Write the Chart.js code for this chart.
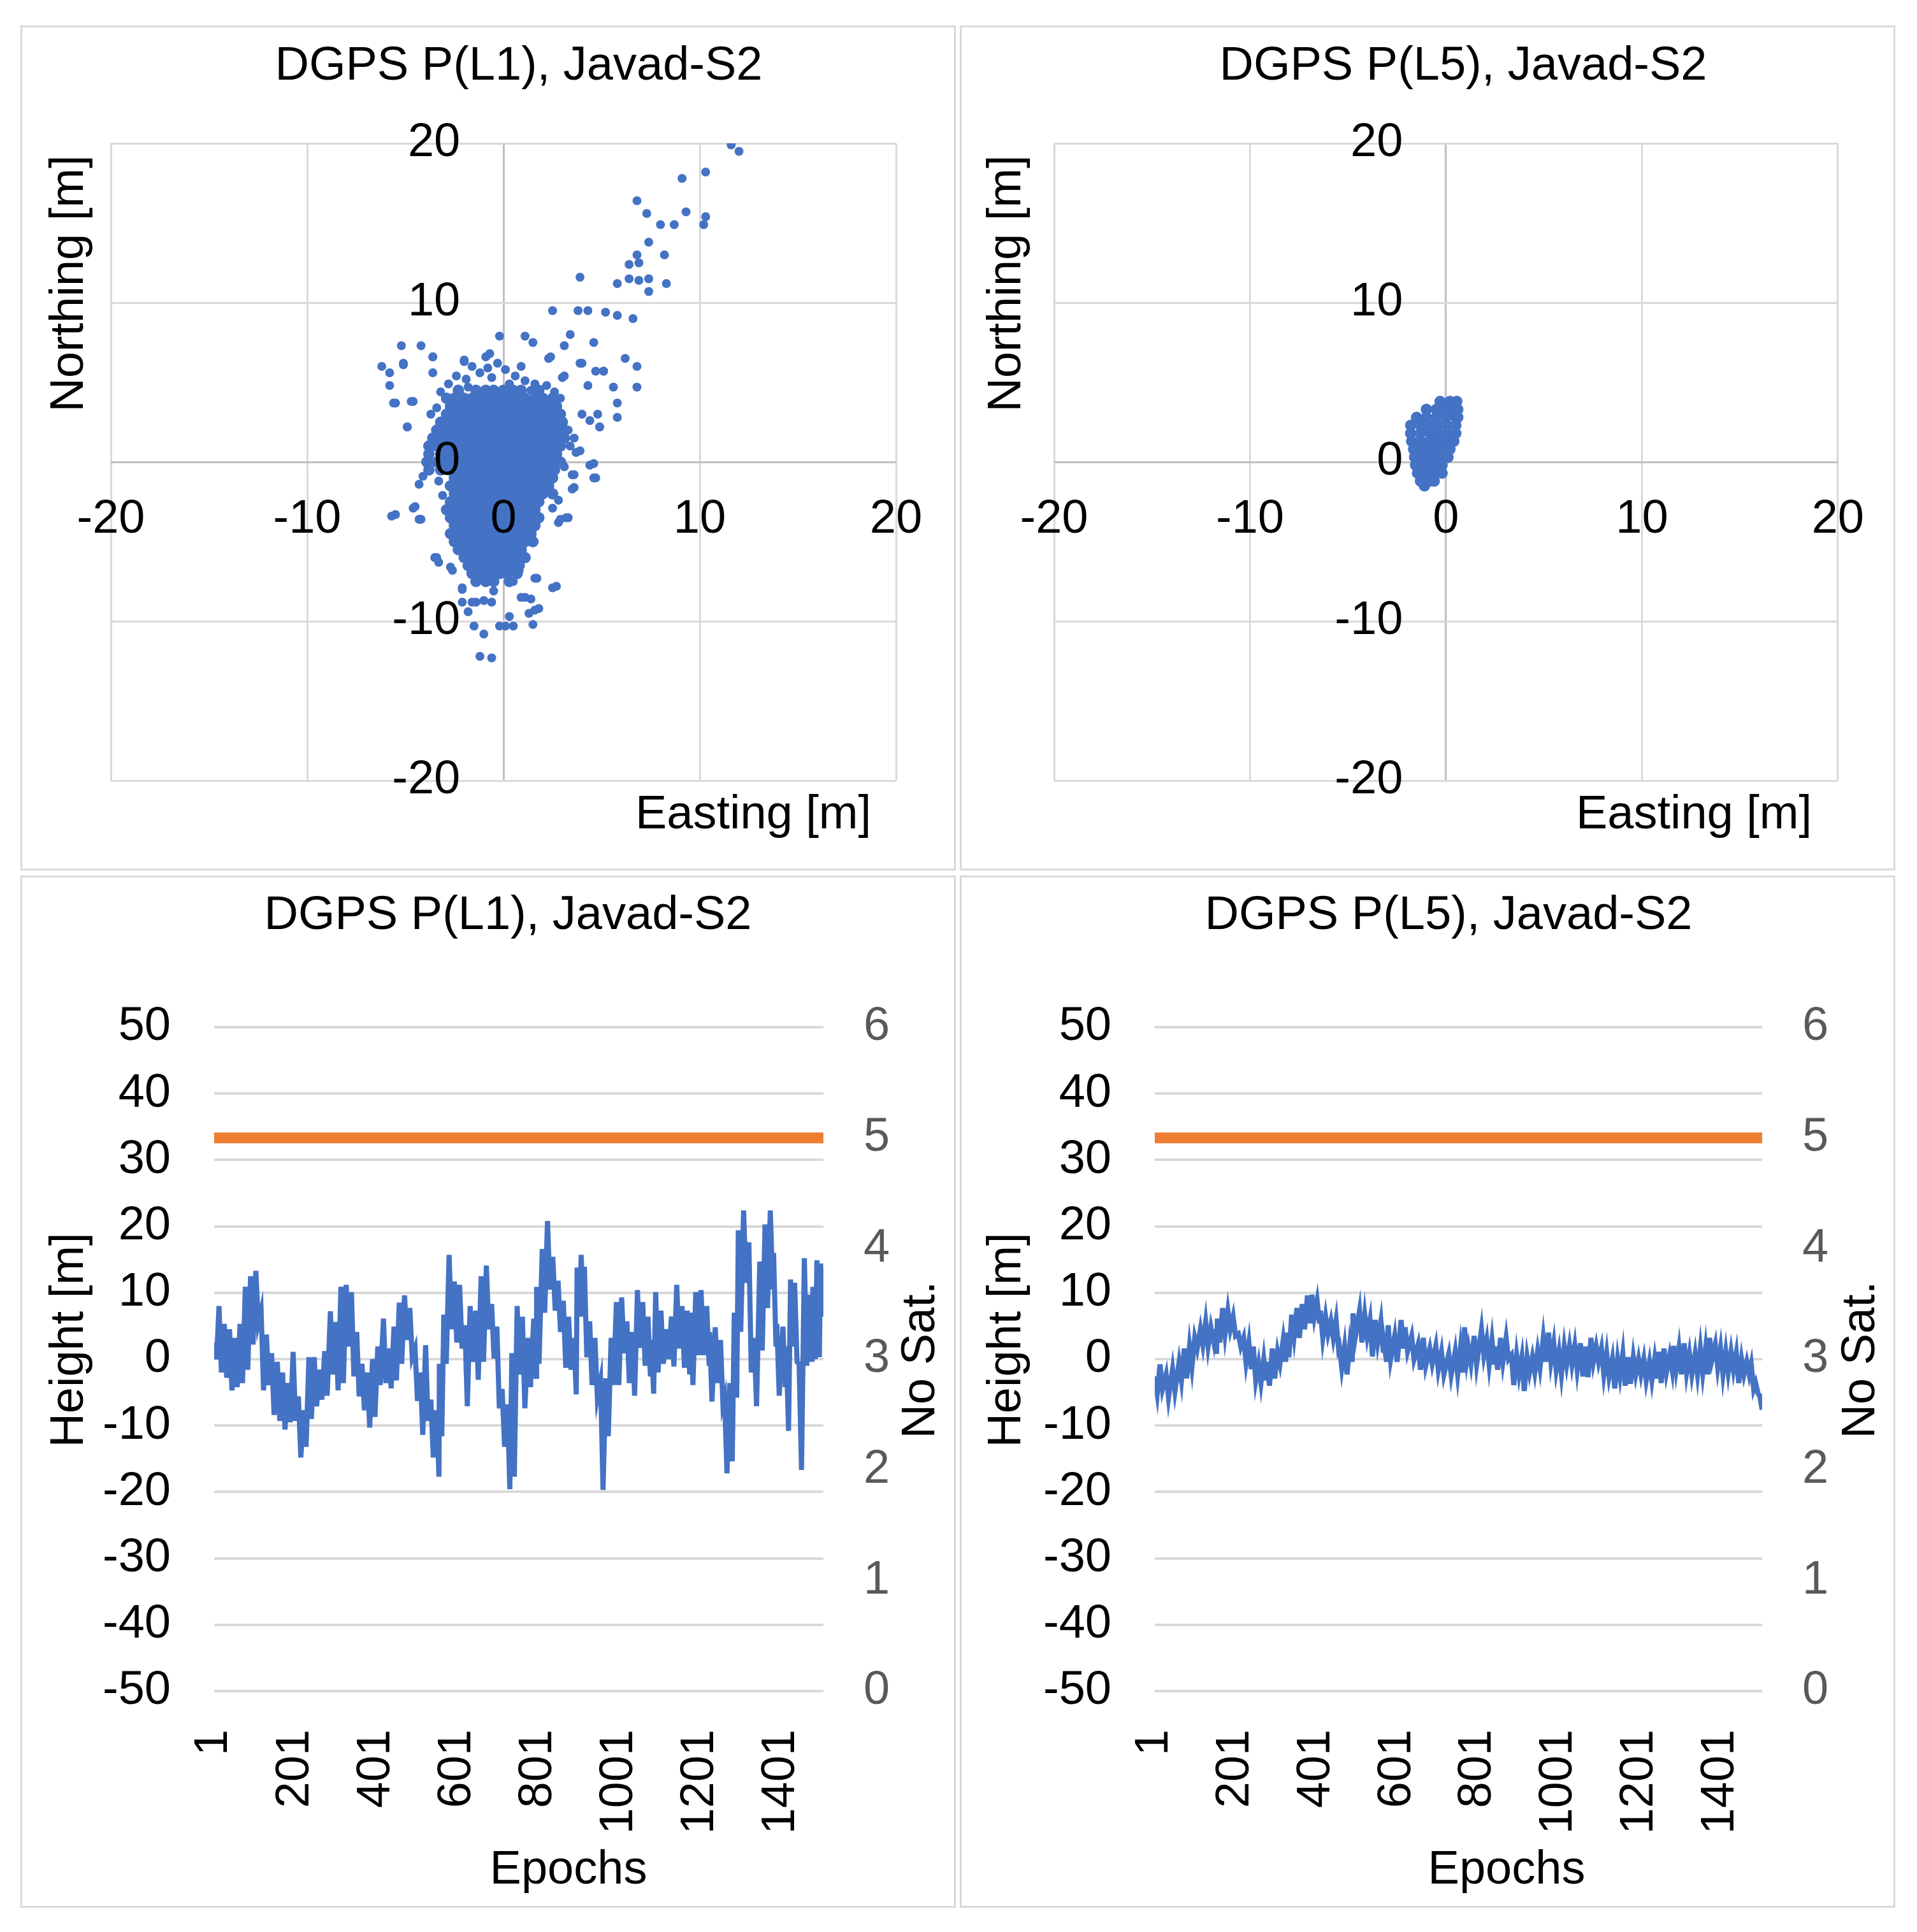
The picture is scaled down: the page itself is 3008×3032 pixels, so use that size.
<!DOCTYPE html>
<html>
<head>
<meta charset="utf-8">
<script src="https://cdn.jsdelivr.net/npm/chart.js@4.4.1/dist/chart.umd.min.js"></script>
<style>
  body { margin: 0; background: #fff; width: 3008px; height: 3032px; position: relative; }
  .panel { position: absolute; border: 3px solid #d9d9d9; background: #fff; }
  .panel canvas { display: block; }
</style>
</head>
<body>
<div class="panel" style="left:32px;top:40px;"><canvas id="scatL1" width="1462" height="1320"></canvas></div>
<div class="panel" style="left:1506px;top:40px;"><canvas id="scatL5" width="1462" height="1320"></canvas></div>
<div class="panel" style="left:32px;top:1374px;"><canvas id="heightL1" width="1462" height="1614"></canvas></div>
<div class="panel" style="left:1506px;top:1374px;"><canvas id="heightL5" width="1462" height="1614"></canvas></div>
<script>
// ---- data ----
const epochTicks = [1, 201, 401, 601, 801, 1001, 1201, 1401]
const epochMax = 1505

// height series: sample epoch, top and bottom of the noise band [m]
const l1Epochs = [1,13,26,39,52,65,78,91,104,117,130,143,157,170,183,196,209,222,235,248,261,274,288,301,314,327,340,353,366,379,392,405,419,432,445,458,471,484,497,510,523,536,550,557,568,581,594,607,620,633,647,660,673,686,699,712,725,736,749,762,
  776,790,797,811,824,837,850,863,876,889,897,907,915,928,941,955,968,981,994,1007,1020,1033,1046,1059,1072,1080,1091,1104,1117,1130,1143,1156,1169,1177,1190,1203,1217,1224,1238,1251,1261,1274,1285,1295,1308,1321,1334,1348,1361,1374,1382,1390,1405,1413,1424,1434,1445,1458,1471,1479,1489,1498]
const l1High = [2.5,8.0,5.3,4.5,3.2,5.3,10.9,12.5,13.3,7.3,3.7,0.9,-0.4,-2.0,-3.6,1.1,-5.6,-7.7,0.3,0.3,-1.6,1.2,7.2,5.6,10.9,11.2,10.1,4.1,-0.7,-2.0,0.0,1.9,6.1,1.6,4.9,8.5,9.6,7.7,1.6,-2.0,2.1,-6.1,-7.7,-0.7,6.7,15.7,11.7,11.2,5.1,8.0,7.3,12.5,14.1,8.3,4.9,-4.5,-6.8,0.9,8.0,6.4,
  3.2,6.1,10.9,16.6,20.8,15.4,11.8,8.8,6.4,3.2,13.8,15.7,13.9,5.7,3.2,-3.2,-2.9,3.2,8.6,9.3,5.7,4.1,10.4,8.6,6.4,2.9,10.1,7.3,4.5,6.4,11.2,8.0,7.3,7.0,10.1,10.4,8.0,4.1,4.8,2.9,-5.8,-3.6,7.0,19.4,22.4,17.6,3.2,14.7,20.3,22.4,16.0,5.3,4.9,1.9,12.0,11.5,-0.7,15.2,9.7,10.9,14.9,14.4]
const l1Low = [0.0,-2.0,-2.8,-4.7,-4.2,-3.6,-1.6,2.2,5.4,-4.7,-3.9,-8.4,-9.3,-10.6,-9.5,-9.3,-14.8,-13.2,-9.0,-7.1,-6.1,-5.5,-2.3,-4.7,-3.6,1.9,-2.6,-5.6,-7.7,-10.3,-8.7,-3.9,-3.6,-4.4,-3.2,-0.7,2.9,0.3,-6.3,-11.4,-9.3,-14.8,-17.7,-11.6,-0.7,4.5,2.5,1.6,-7.1,-0.4,-3.1,-0.4,4.5,0.1,-7.4,-13.2,-19.6,-17.7,-2.3,-7.4,
  -4.2,-2.6,-0.7,7.0,10.5,7.3,4.1,-1.3,-1.6,-5.3,6.4,6.4,0.3,-3.9,-5.8,-19.7,-11.6,-3.9,-3.9,0.9,-3.6,-5.5,1.7,-1.0,-2.6,-5.2,-2.0,-0.7,0.0,-1.1,1.6,-1.3,-2.3,-3.9,0.6,0.6,-1.0,-6.4,-3.6,-6.8,-17.2,-15.4,-5.8,4.1,11.5,-2.0,-7.1,1.3,7.7,10.5,1.9,-5.5,-4.2,-10.8,1.9,-0.4,-16.7,-1.0,-0.4,0.0,0.3,6.4]

const l5Epochs = [1,14,29,45,61,74,87,100,114,127,140,148,156,169,182,195,208,221,234,245,258,271,279,292,305,319,327,340,353,366,379,390,403,411,424,437,450,458,471,484,492,508,521,534,547,561,569,579,595,611,621,637,653,666,682,697,711,729,745,758,768,
  778,792,810,823,836,844,857,871,884,897,910,923,936,949,963,976,989,1002,1015,1028,1041,1055,1068,1081,1094,1107,1120,1134,1147,1160,1173,1186,1199,1212,1226,1239,1249,1262,1276,1286,1299,1312,1325,1339,1352,1365,1375,1389,1402,1415,1428,1441,1454,1467,1478,1489,1499]
const l5High = [-2.6,-0.8,-2.3,-1.5,-0.5,1.6,1.9,3.2,4.5,5.6,4.8,4.5,6.1,7.7,7.3,6.4,3.8,3.2,2.5,1.9,-0.7,0.0,-0.4,1.6,1.1,2.9,4.0,6.7,7.7,8.3,9.6,9.7,8.8,7.3,6.4,5.7,5.9,1.9,1.9,2.2,6.9,7.3,6.7,5.9,5.9,5.7,2.2,5.1,3.5,5.9,4.8,3.5,2.2,3.2,1.6,2.0,1.1,0.8,1.2,1.7,4.8,
  1.6,3.5,4.5,2.9,2.9,1.9,3.2,3.2,0.6,0.6,0.3,0.3,0.3,1.2,3.2,4.0,2.4,1.1,1.9,2.0,2.0,2.4,1.9,3.2,1.9,1.6,0.9,0.0,0.0,0.8,0.3,0.3,0.0,0.0,-0.4,0.0,1.1,1.6,0.6,2.0,1.6,2.4,0.8,0.8,1.6,1.6,3.2,2.2,1.6,1.1,1.1,0.9,0.0,-0.4,-0.8,-3.6,-5.5]
const l5Low = [-5.2,-4.5,-5.8,-4.8,-3.2,-2.9,-1.2,1.6,2.2,1.9,2.9,0.8,2.5,3.8,4.5,3.5,1.9,-0.5,-1.5,-3.2,-3.6,-3.2,-4.0,-2.9,-0.7,-0.4,0.3,3.5,3.2,4.5,5.4,6.4,5.4,3.2,3.8,3.2,1.6,-1.3,-2.3,-0.4,3.5,2.5,3.5,0.4,2.5,1.0,-0.4,0.0,-0.4,1.6,1.2,0.0,-1.6,-1.0,-0.7,-1.6,-2.3,-2.4,-2.3,-2.0,0.0,
  -0.7,-0.8,0.6,-0.8,-0.8,-1.6,-0.4,0.0,-3.9,-2.3,-4.8,-2.0,-2.0,-1.3,-0.4,-0.4,-1.6,-2.3,-0.8,-0.8,-1.6,-2.6,-2.7,-0.4,-0.4,-2.3,-2.6,-4.4,-2.6,-4.0,-3.7,-2.3,-2.3,-3.2,-3.2,-2.9,-3.6,-2.0,-1.6,-1.5,-2.3,-2.0,-2.3,-2.3,-2.1,-2.3,0.0,-1.3,-2.3,-2.0,-1.6,-3.6,-2.3,-2.3,-4.5,-5.2,-7.6]

// number of satellites (constant)
const satEpochs = [1, 1505]
const l1Sats = [5, 5]
const l5Sats = [5, 5]

// scatter: dense core rows (northing -> eastings) and single points [easting, northing]
const l1CoreNorth = [4.5,4.0,3.5,3.0,2.5,2.0,1.5,1.0,0.5,0.0,-0.5,-1.0,-1.5,-2.0,-2.5,-3.0,-3.5,-4.0,-4.5,-5.0,-5.5,-6.0,-6.5,-7.0,-7.5]
const l1CoreEast = [
  [-2.3,-1.4,-0.9,-0.5,0,0.5,0.9,1.8],
  [-2.9,-2.5,-2.0,-1.6,-1.1,-0.7,-0.2,0.2,0.7,1.1,1.6,2.0,2.5],
  [-2.7,-2.3,-1.8,-1.4,-0.9,-0.5,0,0.5,0.9,1.4,1.8,2.3,2.7],
  [-2.9,-2.5,-2.0,-1.6,-1.1,-0.7,-0.2,0.2,0.7,1.1,1.6,2.0,2.5,2.9],
  [-3.2,-2.7,-2.3,-1.8,-1.4,-0.9,-0.5,0,0.5,0.9,1.4,1.8,2.3,2.7,3.0],
  [-3.4,-2.9,-2.5,-2.0,-1.6,-1.1,-0.7,-0.2,0.2,0.7,1.1,1.6,2.0,2.5,2.9,3.1],
  [-3.6,-3.2,-2.7,-2.3,-1.8,-1.4,-0.9,-0.5,0,0.5,0.9,1.4,1.8,2.3,2.7,3.1],
  [-3.8,-3.4,-2.9,-2.5,-2.0,-1.6,-1.1,-0.7,-0.2,0.2,0.7,1.1,1.6,2.0,2.5,2.9],
  [-3.8,-3.2,-2.7,-2.3,-1.8,-1.4,-0.9,-0.5,0,0.5,0.9,1.4,1.8,2.3,2.7],
  [-3.9,-3.4,-2.9,-2.5,-2.0,-1.6,-1.1,-0.7,-0.2,0.2,0.7,1.1,1.6,2.0,2.5,2.9],
  [-3.8,-3.2,-2.7,-2.3,-1.8,-1.4,-0.9,-0.5,0,0.5,0.9,1.4,1.8,2.3,2.6],
  [-2.5,-2.0,-1.6,-1.1,-0.7,-0.2,0.2,0.7,1.1,1.6,2.0,2.5],
  [-2.7,-2.3,-1.8,-1.4,-0.9,-0.5,0,0.5,0.9,1.4,1.8,2.3],
  [-2.5,-2.0,-1.6,-1.1,-0.7,-0.2,0.2,0.7,1.1,1.6,2.0,2.5],
  [-2.7,-2.3,-1.8,-1.4,-0.9,-0.5,0,0.5,0.9,1.4,1.8],
  [-2.9,-2.5,-2.0,-1.6,-1.1,-0.7,-0.2,0.2,0.7,1.1,1.6],
  [-2.7,-2.3,-1.8,-1.4,-0.9,-0.5,0,0.5,0.9,1.4,1.8],
  [-2.5,-2.0,-1.6,-1.1,-0.7,-0.2,0.2,0.7,1.1,1.6],
  [-2.7,-2.3,-1.8,-1.4,-0.9,-0.5,0,0.5,0.9,1.4],
  [-2.5,-2.0,-1.6,-1.1,-0.7,-0.2,0.2,0.7,1.1,1.5],
  [-2.3,-1.8,-1.4,-0.9,-0.5,0,0.5,0.9],
  [-2.0,-1.6,-1.1,-0.7,-0.2,0.2,0.7,1.1],
  [-1.8,-1.4,-0.9,-0.5,0,0.5,0.8],
  [-1.6,-1.1,-0.7,-0.2,0.2,0.7],
  [-1.4,-0.9,-0.5,0.3]
]
const l1Scatter = [
  [11.6,19.9],[12.0,19.5],[9.1,17.8],[10.3,18.2],[6.8,16.4],[7.3,15.6],[8.0,14.9],[8.7,14.9],[9.3,15.7],[10.3,15.4],
  [10.2,14.9],[7.4,13.8],[8.2,13.0],[6.8,13.0],[6.4,12.4],[6.9,12.5],[6.4,11.5],[6.9,11.4],[7.4,11.5],[7.4,10.7],
  [5.8,11.2],[8.3,11.2],[3.9,11.6],[2.5,9.5],[3.8,9.5],[4.3,9.5],[5.2,9.4],[5.8,9.2],[6.6,9.0],[3.4,8.0],
  [3.1,7.3],[4.6,7.5],[1.1,7.9],[1.5,7.5],[-0.2,7.9],[-5.2,7.3],[-4.2,7.3],[-3.6,6.6],[-6.2,6.0],[-5.8,5.6],
  [-5.1,6.1],[-2.0,6.3],[-0.9,6.6],[2.3,6.5],[6.2,6.5],[6.8,6.0],[3.9,6.2],[4.7,5.7],[5.1,5.7],[3.0,5.3],
  [6.8,4.7],[5.6,4.7],[4.3,4.8],[5.8,3.7],[5.8,2.8],[4.9,2.2],[3.7,0.6],[4.4,-0.2],[4.6,-1.0],[3.5,-0.8],
  [3.5,-1.7],[3.2,-3.5],[2.8,-3.8],[2.5,-7.9],[-5.7,-3.4],[-4.6,-2.9],[-4.3,-3.6],[-5.6,3.7],[-4.9,2.2],[-4.6,3.8],
  [-5.8,4.8],[-3.5,-6.0],[-3.3,-6.3],[-2.6,-6.8],[-2.1,-7.9],[-1.6,-8.8],[-1.0,-8.7],[-1.5,-10.3],[-1.0,-10.8],[-1.2,-12.2],
  [-0.6,-12.3],[0.1,-10.3],[-0.2,-10.3],[0.5,-10.3],[0.3,-9.7],[1.5,-10.2],[1.6,-9.3],[1.3,-9.5],[1.1,-8.5],[1.6,-7.3],
  [0.5,-7.5],[0.8,-6.8],[-0.5,-8.1],[-0.6,-8.8],[-2.1,-8.8],[-1.8,-9.4],[0.2,-7.0],
  [-3.6,6.6],[-2.0,6.4],[-0.7,6.8],[2.4,6.6],[4.0,6.2],[-5.1,6.2],[-3.6,5.6],[-0.8,5.9],[3.1,5.4],[5.1,5.7],
  [-4.7,3.8],[-5.5,3.7],[-3.7,3.0],[-4.9,2.2],[4.0,3.0],[4.8,3.0],[4.4,2.6],[4.9,2.2],[3.9,0.7],[4.6,-0.1],
  [3.6,-0.8],[4.7,-1.0],[3.6,-1.6],[-4.3,-1.4],[-4.5,-2.8],[-5.5,-3.3],[-4.2,-3.6],[2.9,-3.6],[3.3,-3.5],[-3.4,-6.0],
  [-2.7,-6.6],[1.7,-7.3],[2.7,-7.8],[-2.1,-8.0],[0.9,-8.5],[1.4,-8.6],[-1.4,-8.8],[1.8,-9.2],
  [-2.8,4.9],[-2.4,5.4],[-1.9,5.2],[-1.2,5.6],[-0.6,5.3],[0.1,5.8],[0.6,5.4],[1.1,5.1],[1.6,4.9],[2.2,4.8],
  [2.6,4.4],[-3.2,4.4],[-0.3,6.2],[0.9,6.0],[-1.6,6.0],[2.9,4.0],[-3.4,3.4],[-1.8,4.7],[0.3,4.9],[1.4,4.5],
  [3.3,2.0],[3.6,1.5],[3.4,1.0],[3.1,-0.3],[2.8,-2.4],[2.5,-2.9],[-4.1,-0.9],[-3.3,-1.2],[-3.1,-2.1]
]

const l5CoreNorth = [3.8,3.3,2.8,2.3,1.8,1.3,0.8,0.3,-0.2,-0.7,-1.2,-1.5]
const l5CoreEast = [
  [-0.3,0.2,0.55],
  [-1.0,-0.5,-0.1,0.35,0.6],
  [-1.5,-1.0,-0.5,0,0.5,0.6],
  [-1.8,-1.3,-0.9,-0.4,0.05,0.5],
  [-1.8,-1.3,-0.8,-0.4,0.05,0.5],
  [-1.75,-1.3,-0.85,-0.4,0.05,0.4],
  [-1.65,-1.2,-0.75,-0.3,0.2],
  [-1.6,-1.15,-0.7,-0.25,0.1],
  [-1.55,-1.1,-0.65,-0.2],
  [-1.45,-1.0,-0.55,-0.2],
  [-1.3,-0.85,-0.6],
  [-1.1]
]

// ---- drawing ----
const BLUE = '#4472C4'
const ORANGE = '#ED7D31'
const GRID = '#d9d9d9'
const AXIS = '#bfbfbf'

Chart.defaults.font.family = "'Liberation Sans', Arial, sans-serif"
Chart.defaults.font.size = 74
Chart.defaults.color = '#000'

// free text (titles, axis titles) placed inside each panel
const panelText = {
  id: 'panelText',
  afterDraw(chart, args, opts) {
    const ctx = chart.ctx
    opts.items.forEach(t => {
      ctx.save()
      ctx.font = "74px 'Liberation Sans', Arial, sans-serif"
      ctx.fillStyle = '#000'
      ctx.textAlign = 'center'
      ctx.textBaseline = 'middle'
      ctx.translate(t.x, t.y)
      if (t.rot) ctx.rotate(-Math.PI / 2)
      ctx.fillText(t.text, 0, 0)
      ctx.restore()
    })
  }
}

function rowsToPoints(north, east) {
  let pts = []
  for (let i = 0; i < north.length; i++) {
    for (let j = 0; j < east[i].length; j++) pts.push({x: east[i][j], y: north[i]})
  }
  return pts
}

// zero lines darker than the other gridlines
const gridColor = c => (c.tick && c.tick.value === 0 ? AXIS : GRID)

function scatterChart(id, core, single, pad, texts) {
  const axis = {
    type: 'linear', min: -20, max: 20,
    grid: {color: gridColor, lineWidth: 3, drawTicks: false},
    border: {display: false}
  }
  new Chart(document.getElementById(id), {
    type: 'scatter',
    data: {
      datasets: [
        {data: core, pointRadius: 9, pointHoverRadius: 9, backgroundColor: BLUE, borderWidth: 0},
        {data: single, pointRadius: 7, pointHoverRadius: 7, backgroundColor: BLUE, borderWidth: 0}
      ]
    },
    options: {
      responsive: false, animation: false, devicePixelRatio: 1,
      layout: {padding: pad},
      plugins: {legend: {display: false}, tooltip: {enabled: false}, panelText: {items: texts}},
      scales: {
        x: {...axis, position: {y: 0}, ticks: {stepSize: 10, padding: 46, z: 1}},
        // labels are right-aligned on the axis position, so put it a little left of zero
        y: {...axis, position: {x: -2.2}, ticks: {stepSize: 10, z: 1}}
      }
    },
    plugins: [panelText]
  })
}

function band(epochs, hi, lo) {
  let pts = []
  for (let i = 0; i < epochs.length; i++) {
    pts.push({x: epochs[i], y: hi[i]})
    pts.push({x: epochs[i] + 6, y: lo[i]})
  }
  return pts
}

function heightChart(id, height, sats, leftW, rightW, texts) {
  new Chart(document.getElementById(id), {
    type: 'line',
    data: {
      datasets: [
        {data: height, yAxisID: 'y', borderColor: BLUE, borderWidth: 8, pointRadius: 0, tension: 0, borderJoinStyle: 'miter'},
        {data: satEpochs.map((e, i) => ({x: e, y: sats[i]})), yAxisID: 'y2', borderColor: ORANGE, borderWidth: 17, pointRadius: 0}
      ]
    },
    options: {
      responsive: false, animation: false, devicePixelRatio: 1,
      layout: {padding: {top: 235, left: 0, right: 0, bottom: 0}},
      plugins: {legend: {display: false}, tooltip: {enabled: false}, panelText: {items: texts}},
      scales: {
        x: {
          type: 'linear', min: 1, max: epochMax,
          afterBuildTicks: a => { a.ticks = epochTicks.map(v => ({value: v})) },
          afterFit: s => { s.height = 337 },
          ticks: {minRotation: 90, maxRotation: 90, padding: 60, autoSkip: false, callback: v => String(v)},
          grid: {display: false, drawTicks: false},
          border: {display: false}
        },
        y: {
          position: 'left', min: -50, max: 50,
          afterFit: s => { s.width = leftW },
          ticks: {stepSize: 10, padding: 68},
          grid: {color: GRID, lineWidth: 4, drawTicks: false},
          border: {display: false}
        },
        y2: {
          position: 'right', min: 0, max: 6,
          afterFit: s => { s.width = rightW },
          ticks: {stepSize: 1, padding: 63, color: '#595959'},
          grid: {display: false, drawTicks: false},
          border: {display: false}
        }
      }
    },
    plugins: [panelText]
  })
}

const l1Pts = l1Scatter.map(p => ({x: p[0], y: p[1]}))

scatterChart('scatL1', rowsToPoints(l1CoreNorth, l1CoreEast), l1Pts,
  {left: 139, right: 91, top: 182, bottom: 138},
  [{text: 'DGPS P(L1), Javad-S2', x: 779, y: 62},
   {text: 'Northing [m]', x: 75, y: 402, rot: true},
   {text: 'Easting [m]', x: 1147, y: 1237}])

scatterChart('scatL5', rowsToPoints(l5CoreNorth, l5CoreEast), [],
  {left: 145, right: 85, top: 182, bottom: 138},
  [{text: 'DGPS P(L5), Javad-S2', x: 787, y: 62},
   {text: 'Northing [m]', x: 72, y: 402, rot: true},
   {text: 'Easting [m]', x: 1149, y: 1237}])

heightChart('heightL1', band(l1Epochs, l1High, l1Low), l1Sats, 301, 205,
  [{text: 'DGPS P(L1), Javad-S2', x: 762, y: 61},
   {text: 'Height [m]', x: 75, y: 726, rot: true},
   {text: 'No Sat.', x: 1411, y: 757, rot: true},
   {text: 'Epochs', x: 857, y: 1559}])

heightChart('heightL5', band(l5Epochs, l5High, l5Low), l5Sats, 303, 206,
  [{text: 'DGPS P(L5), Javad-S2', x: 764, y: 61},
   {text: 'Height [m]', x: 72, y: 726, rot: true},
   {text: 'No Sat.', x: 1412, y: 757, rot: true},
   {text: 'Epochs', x: 855, y: 1559}])
</script>
</body>
</html>
